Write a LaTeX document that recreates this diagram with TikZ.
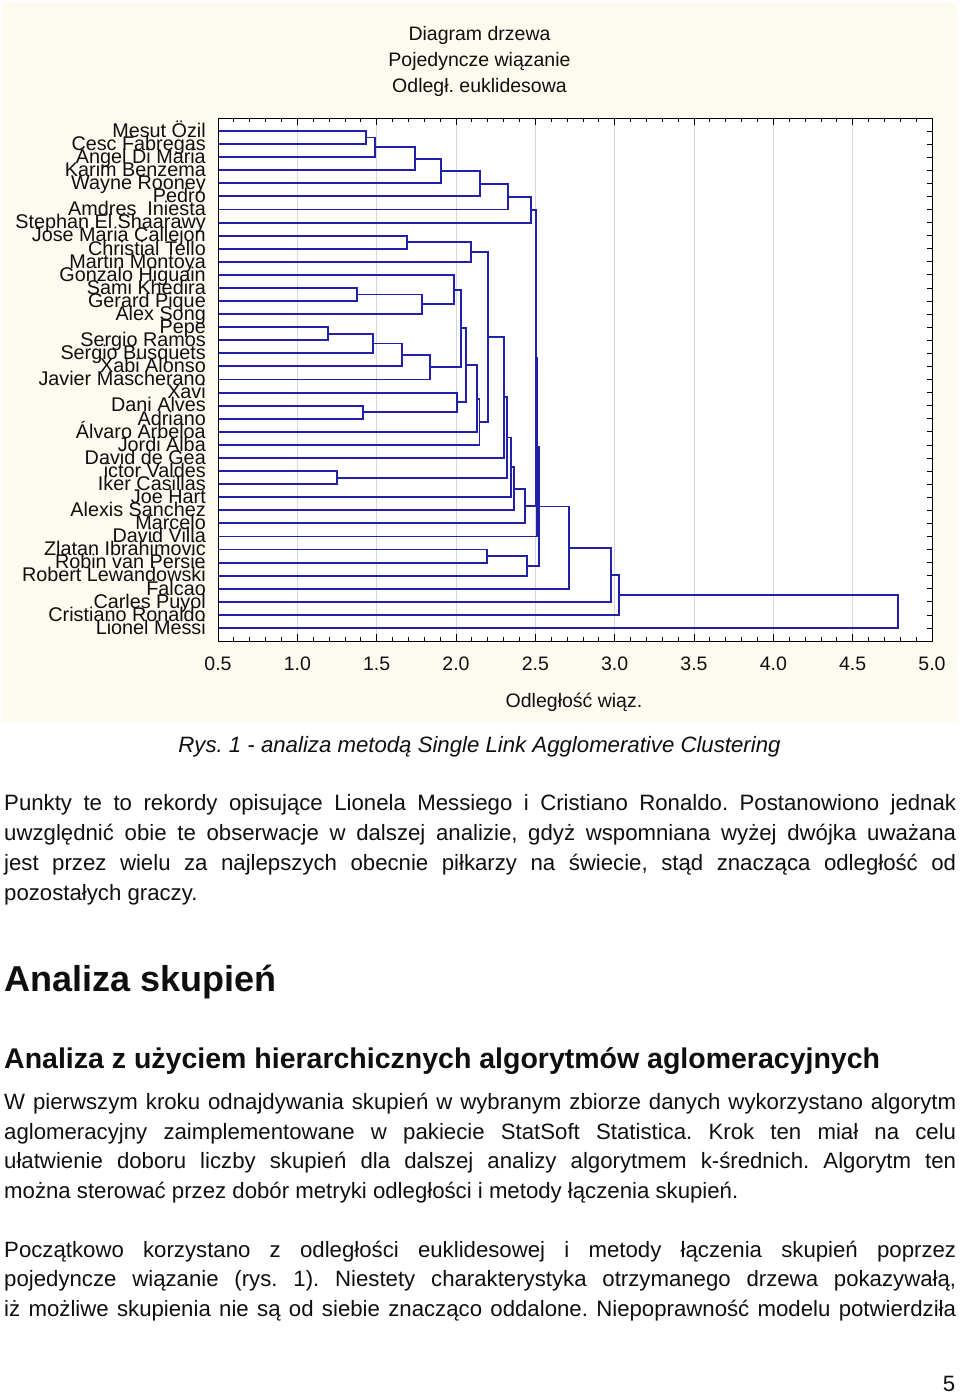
\documentclass[tikz,border=0pt]{standalone}
\usepackage{fontspec}
\setmainfont{Liberation Sans}
\usetikzlibrary{calc}
\frenchspacing
\definecolor{cream}{RGB}{253,250,240}
\definecolor{denblue}{RGB}{32,32,168}
\definecolor{gridgray}{RGB}{214,214,214}
\definecolor{txt}{RGB}{15,15,15}
% merge: name, child1, child2, x-position (px)
\newcommand\mrg[4]{%
  \path (#2) -- (#3) coordinate[pos=0.5] (c#1);
  \coordinate (#1) at (#4,0 |- c#1);
  \draw[den] (#2) -| (#1) |- (#3);
}
\begin{document}
\begin{tikzpicture}[x=1pt,y=-1pt,
  den/.style={draw=denblue,line width=1.9pt},
  lbl/.style={anchor=base east,inner sep=0pt,font=\fontsize{19.8pt}{20pt}\selectfont,text=txt},
  chart/.style={anchor=base,inner sep=0pt,font=\fontsize{19.5pt}{20pt}\selectfont,text=txt},
  body/.style={anchor=base west,inner sep=0pt,font=\fontsize{22.2pt}{26pt}\selectfont\frenchspacing,text=txt},
  axisline/.style={draw=black,line width=0.9pt}]
\useasboundingbox (0,0) rectangle (960,1393);
\fill[white] (0,0) rectangle (960,1393);
% chart background
\fill[cream] (2,3) rectangle (957,722);
\fill[white] (218,118) rectangle (932,641);
% title
\node[chart] (t1) at (479.5,40) {Diagram drzewa};
\node[chart] (t2) at (479.5,66.3) {Pojedyncze wiązanie};
\node[chart] (t3) at (479.5,92.5) {Odległ. euklidesowa};
% grid
\foreach \v in {1,...,8} \draw[gridgray,line width=1pt] ({218+79.333*\v},118) -- ({218+79.333*\v},641);
% ticks
\foreach \k in {0,...,45} {
  \pgfmathsetmacro\tl{ifthenelse(mod(\k,5)==0,7,4)}
  \draw[black,line width=0.8pt] ({218+15.8667*\k},641) -- ++(0,-\tl);
  \draw[black,line width=0.8pt] ({218+15.8667*\k},118) -- ++(0,\tl);
}
\foreach \i in {0,...,38} \draw[black,line width=0.8pt] (932,{131+13.079*\i}) -- ++(-5,0);
% axis labels
\foreach \t [count=\j from 0] in {0.5,1.0,1.5,2.0,2.5,3.0,3.5,4.0,4.5,5.0}
  \node[chart] (ax\j) at ({218+79.333*\j},670) {\t};
\node[chart] (xlab) at (574,707) {Odległość wiąz.};
% leaves and labels
\foreach \n [count=\i from 0] in {Mesut Özil,Cesc Fabregas,Angel Di Maria,Karim Benzema,Wayne Rooney,Pedro,Amdres\ \ Iniesta,Stephan El Shaarawy,Jose Maria Callejon,Christial Tello,Martin Montoya,Gonzalo Higuain,Sami Khedira,Gerard Pique,Alex Song,Pepe,Sergio Ramos,Sergio Busquets,Xabi Alonso,Javier Mascherano,Xavi,Dani Alves,Adriano,Álvaro Arbeloa,Jordi Alba,David de Gea,ictor Valdes,Iker Casillas,Joe Hart,Alexis Sanchez,Marcelo,David Villa,Zlatan Ibrahimovic,Robin van Persie,Robert Lewandowski,Falcao,Carles Puyol,Cristiano Ronaldo,Lionel Messi} {
  \coordinate (l\i) at (218,{131+13.079*\i});
  \node[lbl] (L\i) at (206,{137.3+13.079*\i}) {\n};
}
% dendrogram
\mrg{m1}{l0}{l1}{366}
\mrg{m2}{m1}{l2}{375}
\mrg{m3}{m2}{l3}{415}
\mrg{m4}{m3}{l4}{440.7}
\mrg{m5}{m4}{l5}{480}
\mrg{m6}{m5}{l6}{507.7}
\mrg{m7}{m6}{l7}{530.7}
\mrg{n1}{l8}{l9}{407}
\mrg{n2}{n1}{l10}{471.3}
\mrg{p1}{l12}{l13}{356.7}
\mrg{p2}{p1}{l14}{422.3}
\mrg{p3}{l11}{p2}{454.3}
\mrg{q1}{l15}{l16}{327.7}
\mrg{q2}{q1}{l17}{373.3}
\mrg{q3}{q2}{l18}{402.3}
\mrg{q4}{q3}{l19}{430}
\mrg{r1}{p3}{q4}{460.7}
\mrg{s1}{l21}{l22}{363.3}
\mrg{s2}{l20}{s1}{457.3}
\mrg{r2}{r1}{s2}{466.3}
\mrg{r3}{r2}{l23}{477.3}
\mrg{r4}{r3}{l24}{479.5}
\mrg{u0}{n2}{r4}{488.3}
\mrg{u2}{u0}{l25}{504.3}
\mrg{u1}{l26}{l27}{336.7}
\mrg{u3}{u2}{u1}{506.7}
\mrg{u4}{u3}{l28}{511.3}
\mrg{u5}{u4}{l29}{513.7}
\mrg{u6}{u5}{l30}{525.3}
\mrg{v1}{m7}{u6}{535.7}
\mrg{v2}{v1}{l31}{537.3}
\mrg{w1}{l32}{l33}{486.7}
\mrg{w2}{w1}{l34}{526.7}
\mrg{v3}{v2}{w2}{538.7}
\mrg{v4}{v3}{l35}{568.7}
\mrg{v5}{v4}{l36}{610.7}
\mrg{v6}{v5}{l37}{619.3}
\mrg{v7}{v6}{l38}{897.7}
% frame
\draw[axisline] (218,118) rectangle (932,641);
% caption
\node[anchor=base,inner sep=0pt,font=\fontsize{22.2pt}{26pt}\selectfont\itshape,text=txt] (cap) at (479.5,752.3) {Rys. 1 - analiza metodą Single Link Agglomerative Clustering};
% paragraph 1
\node[body] (a1) at (4,810.7) {\makebox[952pt][s]{Punkty te to rekordy opisujące Lionela Messiego i Cristiano Ronaldo. Postanowiono jednak}};
\node[body] (a2) at (4,840.5) {\makebox[952pt][s]{uwzględnić obie te obserwacje w dalszej analizie, gdyż wspomniana wyżej dwójka uważana}};
\node[body] (a3) at (4,870.3) {\makebox[952pt][s]{jest przez wielu za najlepszych obecnie piłkarzy na świecie, stąd znacząca odległość od}};
\node[body] (a4) at (4,900) {pozostałych graczy.};
% headings
\node[anchor=base west,inner sep=0pt,font=\fontsize{36pt}{40pt}\selectfont\bfseries,text=txt] (h1) at (4,991.7) {Analiza skupień};
\node[anchor=base west,inner sep=0pt,font=\fontsize{28.5pt}{32pt}\selectfont\bfseries,text=txt] (h2) at (4,1068.5) {Analiza z użyciem hierarchicznych algorytmów aglomeracyjnych};
% paragraph 2
\node[body] (b1) at (4,1109.5) {\makebox[952pt][s]{W pierwszym kroku odnajdywania skupień w wybranym zbiorze danych wykorzystano algorytm}};
\node[body] (b2) at (4,1139.2) {\makebox[952pt][s]{aglomeracyjny zaimplementowane w pakiecie StatSoft Statistica. Krok ten miał na celu}};
\node[body] (b3) at (4,1168.9) {\makebox[952pt][s]{ułatwienie doboru liczby skupień dla dalszej analizy algorytmem k-średnich. Algorytm ten}};
\node[body] (b4) at (4,1198.3) {można sterować przez dobór metryki odległości i metody łączenia skupień.};
% paragraph 3
\node[body] (c1) at (4,1257) {\makebox[952pt][s]{Początkowo korzystano z odległości euklidesowej i metody łączenia skupień poprzez}};
\node[body] (c2) at (4,1286.6) {\makebox[952pt][s]{pojedyncze wiązanie (rys. 1). Niestety charakterystyka otrzymanego drzewa pokazywałą,}};
\node[body] (c3) at (4,1316.2) {\makebox[952pt][s]{iż możliwe skupienia nie są od siebie znacząco oddalone. Niepoprawność modelu potwierdziła}};
% page number
\node[anchor=base,inner sep=0pt,font=\fontsize{22.2pt}{26pt}\selectfont,text=txt] (pg) at (949,1391) {5};
\end{tikzpicture}
\end{document}
